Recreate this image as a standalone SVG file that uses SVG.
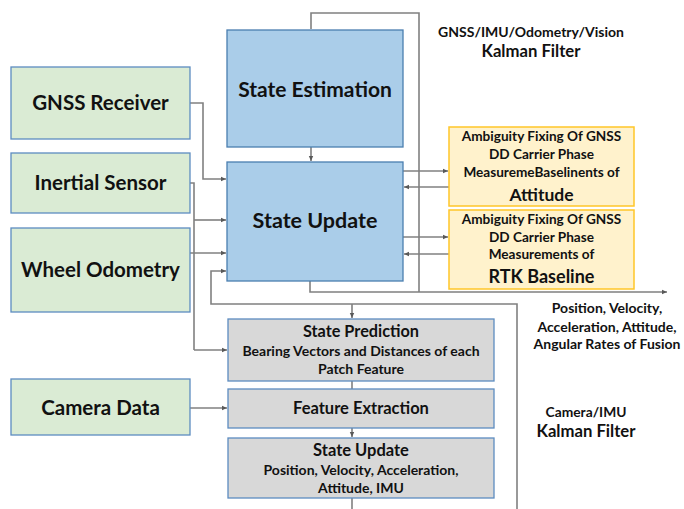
<svg xmlns="http://www.w3.org/2000/svg" width="684" height="509" viewBox="0 0 684 509">
<defs>
<marker id="ah" markerUnits="userSpaceOnUse" markerWidth="6" markerHeight="6" refX="5" refY="3" orient="auto">
<path d="M0,0.8 L5,3 L0,5.2 Z" fill="#595959"/>
</marker>
<style>
.t{font-family:Lato,"Liberation Sans",sans-serif;font-weight:bold;fill:#111;text-anchor:middle}
.blue{fill:#AACDE9;stroke:#4A7EB0;stroke-width:1.3}
.green{fill:#DAEBD4;stroke:#5C8CC0;stroke-width:1.3}
.gray{fill:#D8D8D8;stroke:#5C8CC0;stroke-width:1.3}
.yel{fill:#FFF2CC;stroke:#FFC629;stroke-width:1.5}
.c{fill:none;stroke:#808080;stroke-width:1.6}
.a{marker-end:url(#ah)}
</style>
</defs>
<rect width="684" height="509" fill="#fff"/>

<g id="connectors">
<polyline class="c" points="419,292 419,13 311,13 311,29"/>
<line class="c a" x1="311" y1="147" x2="311" y2="161"/>
<polyline class="c a" points="190,103 203,103 203,179 226,179"/>
<polyline class="c" points="190,183 194,183 194,350"/>
<polyline class="c a" points="194,350 227,350"/>
<line class="c a" x1="194" y1="220" x2="226" y2="220"/>
<line class="c a" x1="190" y1="253" x2="226" y2="253"/>
<polyline class="c a" points="517,509 517,304 211,304 211,271 226,271"/>
<line class="c a" x1="352" y1="304" x2="352" y2="318"/>
<line class="c a" x1="403" y1="171" x2="448" y2="171"/>
<line class="c a" x1="449" y1="187" x2="404" y2="187"/>
<line class="c a" x1="403" y1="237" x2="448" y2="237"/>
<line class="c a" x1="449" y1="254" x2="404" y2="254"/>
<polyline class="c a" points="310,281 310,292 667,292"/>
<line class="c" x1="352" y1="381" x2="352" y2="389"/>
<line class="c a" x1="352" y1="428" x2="352" y2="437"/>
<line class="c" x1="352" y1="498" x2="352" y2="509"/>
<line class="c a" x1="190" y1="408" x2="227" y2="408"/>
</g>

<g id="state-estimation">
<rect class="blue" x="227" y="30" width="176" height="117"/>
<text class="t" x="315" y="97" font-size="21">State Estimation</text>
</g>
<g id="state-update">
<rect class="blue" x="227" y="162" width="176" height="119"/>
<text class="t" x="315" y="228" font-size="21.5">State Update</text>
</g>

<g id="gnss-receiver">
<rect class="green" x="11" y="67" width="179" height="72"/>
<text class="t" x="100.5" y="110" font-size="20.5">GNSS Receiver</text>
</g>
<g id="inertial-sensor">
<rect class="green" x="11" y="153" width="179" height="60"/>
<text class="t" x="100.5" y="190" font-size="20.5">Inertial Sensor</text>
</g>
<g id="wheel-odometry">
<rect class="green" x="11" y="228" width="179" height="84"/>
<text class="t" x="100.5" y="277" font-size="20.5">Wheel Odometry</text>
</g>
<g id="camera-data">
<rect class="green" x="11" y="379" width="179" height="56"/>
<text class="t" x="100.5" y="415" font-size="20.5">Camera Data</text>
</g>

<g id="amb-attitude">
<rect class="yel" x="449" y="127" width="185" height="79"/>
<text class="t" x="541.5" y="141" font-size="13.6">Ambiguity Fixing Of GNSS</text>
<text class="t" x="541.5" y="159" font-size="13.6">DD Carrier Phase</text>
<text class="t" x="541.5" y="177" font-size="13.6">MeasuremeBaselinents of</text>
<text class="t" x="541.5" y="201" font-size="17.5">Attitude</text>
</g>
<g id="amb-rtk">
<rect class="yel" x="449" y="210" width="185" height="79"/>
<text class="t" x="541.5" y="223.5" font-size="13.6">Ambiguity Fixing Of GNSS</text>
<text class="t" x="541.5" y="242" font-size="13.6">DD Carrier Phase</text>
<text class="t" x="541.5" y="259" font-size="13.6">Measurements of</text>
<text class="t" x="541.5" y="283" font-size="18">RTK Baseline</text>
</g>

<g id="state-prediction">
<rect class="gray" x="228" y="319" width="266" height="62"/>
<text class="t" x="361" y="337" font-size="16.3">State Prediction</text>
<text class="t" x="361" y="355.5" font-size="14">Bearing Vectors and Distances of each</text>
<text class="t" x="361" y="374" font-size="14">Patch Feature</text>
</g>
<g id="feature-extraction">
<rect class="gray" x="228" y="389" width="266" height="39"/>
<text class="t" x="361" y="414" font-size="16.5">Feature Extraction</text>
</g>
<g id="state-update-cam">
<rect class="gray" x="228" y="438" width="266" height="60"/>
<text class="t" x="361" y="455.5" font-size="16.5">State Update</text>
<text class="t" x="361" y="475" font-size="14">Position, Velocity, Acceleration,</text>
<text class="t" x="361" y="492.5" font-size="14">Attitude, IMU</text>
</g>

<g id="labels">
<text class="t" x="531" y="37" font-size="14">GNSS/IMU/Odometry/Vision</text>
<text class="t" x="531" y="57" font-size="16.7">Kalman Filter</text>
<text class="t" x="607" y="313" font-size="14">Position, Velocity,</text>
<text class="t" x="607" y="331.5" font-size="14">Acceleration, Attitude,</text>
<text class="t" x="607" y="349" font-size="14">Angular Rates of Fusion</text>
<text class="t" x="586" y="416.5" font-size="13.8">Camera/IMU</text>
<text class="t" x="586" y="437" font-size="16.7">Kalman Filter</text>
</g>
</svg>
